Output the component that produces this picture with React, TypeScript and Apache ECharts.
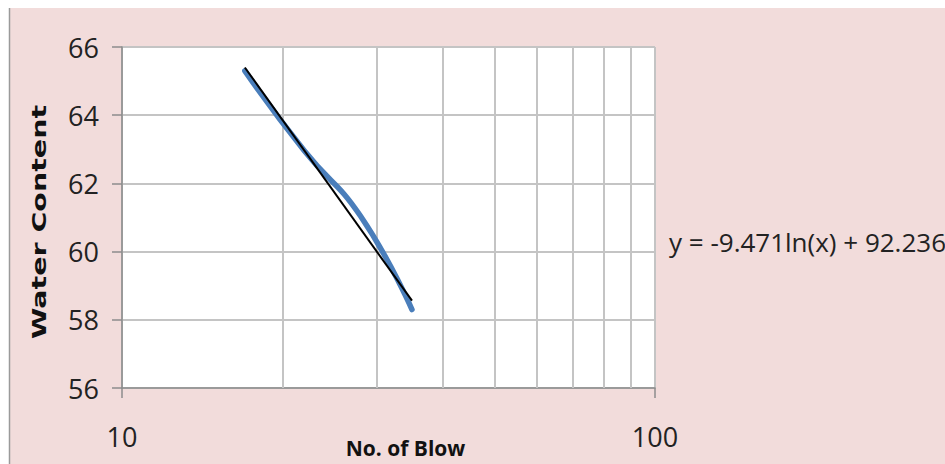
import React, { useEffect, useRef } from "react";
import * as echarts from "echarts";

const blows = [17, 22, 28, 35];
const waterContent = [65.3, 62.95, 61.05, 58.3];
const trendBlows = [17, 35];
const trendWater = [65.4, 58.56];
const minorGridX = [20, 30, 40, 50, 60, 70, 80, 90];
const yTicks = [56, 58, 60, 62, 64, 66];
const xTitle = "No. of Blow";
const yTitle = "Water Content";
const equation = "y = -9.471ln(x) + 92.236";

export default function App() {
  const ref = useRef<HTMLDivElement>(null);
  useEffect(() => {
    if (!ref.current) return;
    const chart = echarts.init(ref.current, null, { renderer: "svg" });
    const font = "Open Sans";
    chart.setOption({
      animation: false,
      backgroundColor: "#ffffff",
      graphic: [
        {
          type: "rect",
          z: -10,
          shape: { x: 9, y: 8, width: 940, height: 460 },
          style: { fill: "#F2DCDB", stroke: null },
        },
        {
          type: "line",
          z: -9,
          shape: { x1: 9.5, y1: 8, x2: 9.5, y2: 464 },
          style: { stroke: "#9A9A9A", lineWidth: 1.5 },
        },
        {
          type: "text",
          x: 40,
          y: 222,
          rotation: Math.PI / 2,
          scaleX: 1.5,
          style: {
            text: yTitle,
            font: "bold 19px 'DejaVu Sans'",
            fill: "#111",
            align: "center",
            verticalAlign: "middle",
          },
        },
        {
          type: "text",
          x: 669,
          y: 242,
          style: {
            text: equation,
            font: `26px '${font}'`,
            fill: "#222",
            align: "left",
            verticalAlign: "middle",
          },
        },
      ],
      grid: {
        left: 122,
        top: 47,
        right: 290,
        bottom: 76,
        show: true,
        backgroundColor: "#ffffff",
        borderWidth: 0,
        containLabel: false,
        outerBoundsMode: "none",
      },
      xAxis: {
        type: "log",
        logBase: 10,
        min: 10,
        max: 100,
        name: xTitle,
        nameLocation: "middle",
        nameGap: 49,
        nameMoveOverlap: false,
        nameTextStyle: {
          fontFamily: font,
          fontSize: 21,
          fontWeight: "bold",
          color: "#111",
          padding: [0, 0, 0, 34],
        },
        axisLine: { show: true, lineStyle: { color: "#8C8C8C", width: 1.5 } },
        axisTick: { show: true, length: 10, lineStyle: { color: "#8C8C8C", width: 1.5 } },
        axisLabel: { fontFamily: font, fontSize: 27, color: "#222", margin: 35 },
        splitLine: { show: true, lineStyle: { color: "#C4C4C4", width: 2 } },
        minorTick: { show: false },
      },
      yAxis: {
        type: "value",
        min: 56,
        max: 66,
        interval: 2,
        axisLine: { show: true, lineStyle: { color: "#8C8C8C", width: 1.5 } },
        axisTick: { show: true, length: 10, lineStyle: { color: "#8C8C8C", width: 1.5 } },
        axisLabel: {
          fontFamily: font,
          fontSize: 27,
          color: "#222",
          margin: 23,
          formatter: (v: number) => (yTicks.includes(v) ? String(v) : ""),
        },
        splitLine: { show: true, lineStyle: { color: "#C4C4C4", width: 2 } },
      },
      series: [
        {
          type: "line",
          data: [],
          z: 1,
          silent: true,
          markLine: {
            z: 1,
            silent: true,
            symbol: ["none", "none"],
            label: { show: false },
            lineStyle: { type: "solid", color: "#C4C4C4", width: 2 },
            data: minorGridX.map((v) => ({ xAxis: v })),
          },
        },
        {
          type: "line",
          z: 3,
          data: blows.map((b, i) => [b, waterContent[i]]),
          smooth: 0.5,
          showSymbol: false,
          symbol: "none",
          lineStyle: { color: "#4A7EBB", width: 5.5, cap: "round" },
        },
        {
          type: "line",
          z: 4,
          data: trendBlows.map((b, i) => [b, trendWater[i]]),
          showSymbol: false,
          symbol: "none",
          lineStyle: { color: "#000000", width: 2 },
        },
      ],
    });
    return () => chart.dispose();
  }, []);
  return (
    <div
      ref={ref}
      style={{ position: "absolute", left: 0, top: 0, width: 945, height: 464 }}
    />
  );
}
